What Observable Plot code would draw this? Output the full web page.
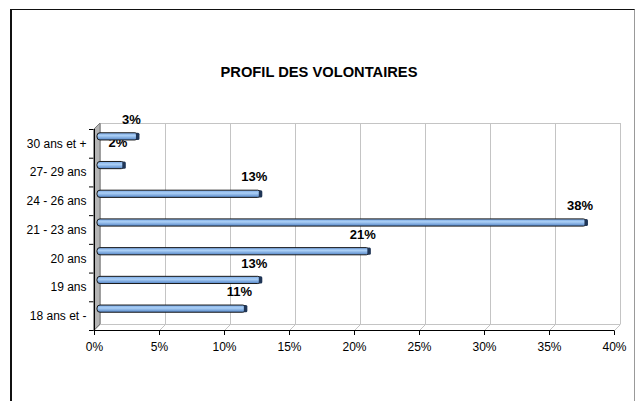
<!DOCTYPE html>
<html><head><meta charset="utf-8">
<script src="https://cdn.jsdelivr.net/npm/d3@7"></script>
<script src="https://cdn.jsdelivr.net/npm/@observablehq/plot@0.6"></script>
<style>
html,body{margin:0;padding:0;background:#fff;}
#wrap{position:relative;width:635px;height:401px;overflow:hidden;font-family:"Liberation Sans",Arial,sans-serif;}
#chart{position:absolute;left:0;top:0;}
#title{position:absolute;left:0;width:638px;top:64px;text-align:center;font-weight:bold;font-size:14.7px;color:#000;}
#frame{position:absolute;left:10px;top:9px;width:622px;height:420px;border-left:2px solid #111;border-top:1.5px solid #111;border-right:1.5px solid #999;pointer-events:none;}
</style></head><body>
<div id="wrap"><div id="chart"></div><div id="title">PROFIL DES VOLONTAIRES</div><div id="frame"></div></div>
<script>
// categories bottom -> top
const categories = ["18 ans et -", "19 ans", "20 ans", "21 - 23 ans", "24 - 26 ans", "27- 29 ans", "30 ans et +"];
const values = [11.45, 12.6, 20.95, 37.65, 12.6, 2.1, 3.15];
const xTicks = [0, 5, 10, 15, 20, 25, 30, 35, 40];
const yBoundaries = [-0.5, 0.5, 1.5, 2.5, 3.5, 4.5, 5.5, 6.5];

const data = categories.map((cat, i) => ({cat, i, value: values[i]}));

const W = 635, H = 401, mL = 94, mR = 21, mT = 129, mB = 71;
const pxX = (W - mL - mR) / 40;          // px per percent
const pxY = (H - mT - mB) / 7;           // px per category
const depth = 6;
const dxU = depth / pxX, dyU = depth / pxY;
const halfBar = 3.6 / pxY;
const grid = "#c4c4c4";
const raised = "27- 29 ans"; // label pushed up behind the bar above it, as in the original

const defs = () => {
  const d = document.createElementNS("http://www.w3.org/2000/svg", "defs");
  d.innerHTML = `<linearGradient id="barGrad" x1="0" y1="0" x2="0" y2="1">
    <stop offset="0" stop-color="#76a6e4"/><stop offset="0.4" stop-color="#acd0f6"/><stop offset="1" stop-color="#5385c8"/></linearGradient>`;
  return d;
};

const labelOpts = {x: "value", y: "i", text: d => Math.round(d.value) + "%", dx: -4, fontWeight: "bold", fontSize: 13, fill: "#000"};

const chart = Plot.plot({
  width: W, height: H,
  marginLeft: mL, marginRight: mR, marginTop: mT, marginBottom: mB,
  style: {fontFamily: "'Liberation Sans', Arial, sans-serif", fontSize: "12px", background: "transparent", color: "#000"},
  x: {domain: [0, 40], ticks: xTicks, tickFormat: d => d + "%", tickSize: 5, tickPadding: 7, label: null},
  y: {domain: [-0.5, 6.5], ticks: yBoundaries, tickFormat: () => "", tickSize: 5, label: null},
  marks: [
    defs,
    // back wall gridlines
    Plot.ruleX(xTicks, {x: d => d + dxU, y1: -0.5 + dyU, y2: 6.5 + dyU, stroke: grid}),
    Plot.ruleY([6.5 + dyU, -0.5 + dyU], {x1: dxU, x2: 40 + dxU, stroke: grid}),
    // floor diagonals
    Plot.link(xTicks, {x1: d => d, y1: -0.5, x2: d => d + dxU, y2: -0.5 + dyU, stroke: grid}),
    // left side wall
    Plot.areaY([{x: 0, y1: -0.5, y2: 6.5}, {x: dxU, y1: -0.5 + dyU, y2: 6.5 + dyU}],
      {x: "x", y1: "y1", y2: "y2", fill: "#b4b4b4", stroke: "#7a7a7a", strokeWidth: 1}),
    // front axis lines
    Plot.ruleY([-0.5], {x1: 0, x2: 40, stroke: "#000"}),
    Plot.ruleX([0], {y1: -0.5, y2: 6.5, stroke: "#000"}),
    // category labels
    Plot.text(data, {x: () => 0, y: "i", text: "cat", textAnchor: "end", dx: -8, fontSize: 12, fill: "#000"}),
    // value labels (drawn before bars so bars overlap them)
    Plot.text(data.filter(d => d.cat !== raised), {...labelOpts, dy: -24}),
    Plot.text(data.filter(d => d.cat === raised), {...labelOpts, dy: -29.5}),
    // bars
    Plot.rect(data, {x1: () => 0, x2: "value", y1: d => d.i - halfBar, y2: d => d.i + halfBar, dx: 3, dy: -7,
      fill: "url(#barGrad)", stroke: "#1a1a1a", strokeWidth: 1, rx: 3}),
    // bar end caps
    Plot.rect(data, {x1: "value", x2: "value", y1: d => d.i - halfBar, y2: d => d.i + halfBar, dx: 3, dy: -7,
      insetLeft: -2, insetRight: -1.5, fill: "#1f3556", rx: 1.5})
  ]
});
document.getElementById("chart").appendChild(chart);
</script>
</body></html>
